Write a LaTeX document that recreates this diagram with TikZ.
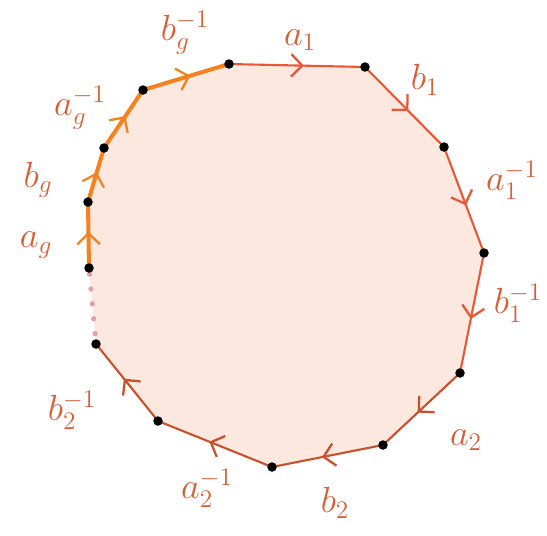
\documentclass[tikz,border=0pt]{standalone}
\usetikzlibrary{decorations.markings,arrows.meta}
\definecolor{peach}{RGB}{252,232,222}
\definecolor{edgered}{RGB}{232,88,55}
\definecolor{edgedark}{RGB}{200,80,45}
\definecolor{edgeorange}{RGB}{245,130,30}
\definecolor{lblcol}{RGB}{212,96,58}
\definecolor{gapdot}{RGB}{225,160,168}
\begin{document}
\begin{tikzpicture}[x=0.02cm,y=-0.02cm,
	vtx/.style={circle,fill=black,inner sep=0,minimum size=0.19cm},
	midarrow/.style={postaction={decorate,decoration={markings,
		mark=at position 0.55 with {\arrow[#1]{Straight Barb[length=2.2mm,width=4.5mm,line width=1.3pt]}}}}},
	edge/.style={line width=1.2pt,edgered,midarrow=edgered},
	darkedge/.style={line width=1.2pt,edgedark,midarrow=edgedark},
	genedge/.style={line width=2.3pt,edgeorange,midarrow=edgeorange},
	lbl/.style={text=lblcol,font=\huge}]
	\useasboundingbox (0,0) rectangle (547,535);
	\coordinate (v0) at (229,64);
	\coordinate (v1) at (365,67);
	\coordinate (v2) at (444,147);
	\coordinate (v3) at (484,253);
	\coordinate (v4) at (460,373);
	\coordinate (v5) at (383,445);
	\coordinate (v6) at (272,467);
	\coordinate (v7) at (158,421);
	\coordinate (v8) at (96,344);
	\coordinate (w0) at (89,268);
	\coordinate (w1) at (88,202);
	\coordinate (w2) at (104,148);
	\coordinate (w3) at (143,90);
	\fill [peach] (v0) -- (v1) -- (v2) -- (v3) -- (v4) -- (v5) -- (v6) -- (v7) -- (v8) -- (w0) -- (w1) -- (w2) -- (w3) -- cycle;
	\draw [edge] (v0) -- (v1);
	\draw [edge] (v1) -- (v2);
	\draw [edge] (v2) -- (v3);
	\draw [edge] (v3) -- (v4);
	\draw [darkedge] (v4) -- (v5);
	\draw [darkedge] (v5) -- (v6);
	\draw [darkedge] (v6) -- (v7);
	\draw [darkedge] (v7) -- (v8);
	\draw [genedge] (w0) -- (w1);
	\draw [genedge] (w1) -- (w2);
	\draw [genedge] (w2) -- (w3);
	\draw [genedge] (w3) -- (v0);
	\draw [gapdot,line width=3pt,line cap=round,dash pattern=on 0pt off 8.5pt,dash phase=-12pt] (w0) -- (v8);
	\foreach \v in {v0,v1,v2,v3,v4,v5,v6,v7,v8,w0,w1,w2,w3}
		\node [vtx] at (\v) {};
	\node [lbl] (la1) at (300,40) {$a_1$};
	\node [lbl] (lb1) at (425,80) {$b_1$};
	\node [lbl] (la1i) at (512,180) {$a_1^{-1}$};
	\node [lbl] (lb1i) at (518,303) {$b_1^{-1}$};
	\node [lbl] (la2) at (466,440) {$a_2$};
	\node [lbl] (lb2) at (335,503) {$b_2$};
	\node [lbl] (la2i) at (207,488) {$a_2^{-1}$};
	\node [lbl] (lb2i) at (72,410) {$b_2^{-1}$};
	\node [lbl] (lag) at (36,245) {$a_g$};
	\node [lbl] (lbg) at (38,180) {$b_g$};
	\node [lbl] (lagi) at (80,108) {$a_g^{-1}$};
	\node [lbl] (lbgi) at (185,33) {$b_g^{-1}$};
\end{tikzpicture}
\end{document}
